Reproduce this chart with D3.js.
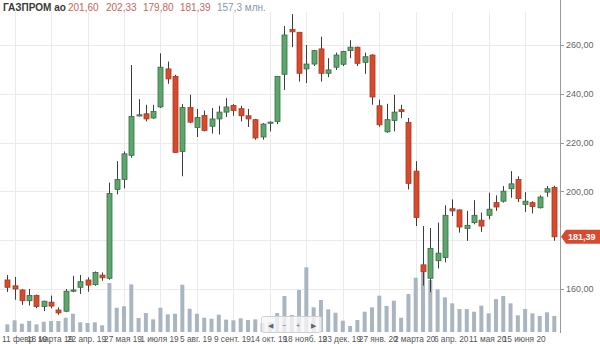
<!DOCTYPE html>
<html><head><meta charset="utf-8">
<script src="https://cdn.jsdelivr.net/npm/d3@7"></script>
<style>html,body{margin:0;padding:0;background:#fff}svg{display:block;font-family:"Liberation Sans",Arial,sans-serif}</style>
</head><body><svg id="c" width="600" height="344"></svg>
<script>
const dates = ["2019-02-04","2019-02-11","2019-02-18","2019-02-25","2019-03-04","2019-03-11","2019-03-18","2019-03-25","2019-04-01","2019-04-08","2019-04-15","2019-04-22","2019-04-29","2019-05-06","2019-05-13","2019-05-20","2019-05-27","2019-06-03","2019-06-10","2019-06-17","2019-06-24","2019-07-01","2019-07-08","2019-07-15","2019-07-22","2019-07-29","2019-08-05","2019-08-12","2019-08-19","2019-08-26","2019-09-02","2019-09-09","2019-09-16","2019-09-23","2019-09-30","2019-10-07","2019-10-14","2019-10-21","2019-10-28","2019-11-04","2019-11-11","2019-11-18","2019-11-25","2019-12-02","2019-12-09","2019-12-16","2019-12-23","2019-12-30","2020-01-06","2020-01-13","2020-01-20","2020-01-27","2020-02-03","2020-02-10","2020-02-17","2020-02-24","2020-03-02","2020-03-09","2020-03-16","2020-03-23","2020-03-30","2020-04-06","2020-04-13","2020-04-20","2020-04-27","2020-05-04","2020-05-11","2020-05-18","2020-05-25","2020-06-01","2020-06-08","2020-06-15","2020-06-22","2020-06-29","2020-07-06","2020-07-13"];
const open  = [163.7,161.3,159.6,155.2,157.3,152.8,154.6,151.4,150.9,159.2,160.7,163.7,161.8,165.7,164.4,200.8,204.9,214.8,230.9,231.8,230.1,234.6,250.2,247.1,216.4,234.4,226.2,231.1,226.7,229.7,232.5,235.2,233.9,231.0,229.4,222.3,227.9,228.7,248.0,266.4,265.2,250.2,252.2,258.4,248.4,250.9,252.1,257.7,259.1,252.9,255.9,235.1,224.4,229.1,233.5,228.3,208.3,169.9,164.4,171.6,172.9,192.9,192.4,184.8,187.2,188.2,190.2,195.4,196.0,201.1,204.9,194.7,195.4,193.3,199.7,201.60];
const high  = [165.7,164.9,160.0,160.0,157.7,155.2,157.3,152.5,160.0,165.4,165.7,164.8,167.2,166.8,203.6,212.4,216.4,251.8,237.8,235.5,235.5,256.6,253.2,247.8,235.8,239.6,233.8,233.1,234.2,235.1,238.2,235.8,235.1,233.8,229.7,228.0,228.7,247.2,267.8,272.7,265.4,260.0,258.0,263.4,254.6,256.9,257.6,262.0,259.3,256.9,256.2,237.6,235.9,239.6,235.5,230.1,212.4,185.8,185.0,187.2,194.3,196.7,192.7,192.0,196.4,191.3,199.5,198.4,202.2,208.3,206.2,199.7,196.0,198.4,202.2,202.33];
const low   = [158.8,155.6,153.5,153.2,152.1,150.9,152.1,149.4,150.5,158.7,158.0,158.9,161.3,163.4,163.8,198.8,201.2,213.8,230.7,228.7,229.7,234.2,244.1,215.8,206.2,228.0,222.3,224.6,223.7,223.3,230.5,231.0,228.7,226.4,221.2,221.2,224.6,227.6,241.6,259.1,245.0,244.4,251.4,245.0,246.8,249.8,251.4,254.6,251.4,248.2,235.5,226.5,224.0,224.6,230.1,200.8,185.8,161.4,158.7,168.4,170.9,189.9,183.1,179.7,186.5,183.4,188.6,192.0,195.4,197.4,195.6,191.6,191.0,193.0,197.8,179.80];
const close = [160.7,160.0,155.2,157.3,152.8,155.0,153.0,150.2,159.1,159.6,163.0,161.6,166.8,164.6,199.1,204.9,215.4,230.7,231.4,229.7,232.8,250.9,246.1,216.0,234.4,228.4,230.3,225.0,229.7,232.5,234.6,233.2,231.0,229.7,221.9,227.6,228.4,247.1,264.1,265.4,248.4,252.2,257.7,248.4,249.8,255.9,257.3,259.1,252.5,255.2,238.7,227.3,229.4,232.5,232.7,203.3,189.3,167.1,176.6,174.7,190.2,192.0,185.4,186.1,190.2,185.8,192.7,193.6,200.1,203.1,197.1,196.0,193.8,197.7,201.1,181.39];
const volume = [75,115,81,108,75,101,108,108,140,179,95,88,95,66,480,238,252,467,137,186,124,238,173,179,464,228,179,140,130,170,121,115,134,118,124,88,98,186,353,167,412,634,242,314,222,189,111,59,118,199,242,356,255,307,140,372,532,588,510,418,340,281,225,225,199,258,183,323,353,281,164,225,183,157,193,157.3];
const tickDates = ["2019-02-11","2019-03-18","2019-04-22","2019-05-27","2019-07-01","2019-08-05","2019-09-09","2019-10-14","2019-11-18","2019-12-23","2020-01-27","2020-03-02","2020-04-06","2020-05-11","2020-06-15"];
const tickLabels = ["11 февр. 19","18 марта 19","22 апр. 19","27 мая 19","1 июля 19","5 авг. 19","9 сент. 19","14 окт. 19","18 нояб. 19","23 дек. 19","27 янв. 20","2 марта 20","6 апр. 20","11 мая 20","15 июня 20"];
const priceTicks = [160,180,200,220,240,260];
const title = "ГАЗПРОМ ао";
const headerValues = ["201,60","202,33","179,80","181,39"];
const headerVolume = "157,3 млн.";

const svg = d3.select("#c");
const x = d3.scaleBand().domain(dates).range([3.65, 557.95]).padding(0);
const cx = d => x(d) + x.bandwidth()/2;
const y = d3.scaleLinear().domain([160,260]).range([289,45]);
const vy = d3.scaleLinear().domain([0,1000]).range([332,230]);
const fmt = v => d3.format(".2f")(v).replace(".", ",");

// grid
const g = svg.append("g");
g.selectAll(".hg").data(priceTicks).join("line")
  .attr("x1",0).attr("x2",560).attr("y1",d=>Math.round(y(d))+0.5).attr("y2",d=>Math.round(y(d))+0.5)
  .attr("stroke","#ebebeb");
g.selectAll(".vg").data(tickDates).join("line")
  .attr("x1",d=>Math.round(cx(d))+0.5).attr("x2",d=>Math.round(cx(d))+0.5).attr("y1",12).attr("y2",333)
  .attr("stroke","#ebebeb");

// volume
svg.append("g").selectAll("rect").data(dates).join("rect")
  .attr("x",(d)=>cx(d)-2).attr("width",4)
  .attr("y",(d,i)=>vy(volume[i])).attr("height",(d,i)=>vy(0)-vy(volume[i]))
  .attr("fill","#a9b6c1");

// candles
const cg = svg.append("g");
dates.forEach((d,i)=>{
  const up = close[i] >= open[i];
  const xc = Math.round(cx(d));
  cg.append("line").attr("x1",xc+0.5).attr("x2",xc+0.5).attr("y1",y(high[i])).attr("y2",y(low[i]))
    .attr("stroke","#3d3d3d").attr("stroke-width",1);
  const top = y(Math.max(open[i],close[i])), bot = y(Math.min(open[i],close[i]));
  cg.append("rect").attr("x",xc-2).attr("width",5)
    .attr("y",top).attr("height",Math.max(1.2,bot-top))
    .attr("fill",up?"#5da66c":"#d94a2d").attr("stroke",up?"#3a6b45":"#a33a22").attr("stroke-width",0.8);
});

// right axis
svg.append("line").attr("x1",560.5).attr("x2",560.5).attr("y1",0).attr("y2",333).attr("stroke","#9a9a9a");
const lastClose = close[close.length-1];
const visTicks = priceTicks.filter(t => Math.abs(y(t)-y(lastClose)) > 10);
svg.selectAll(".yt").data(visTicks).join("line")
  .attr("x1",561).attr("x2",564).attr("y1",d=>Math.round(y(d))+0.5).attr("y2",d=>Math.round(y(d))+0.5).attr("stroke","#9a9a9a");
svg.selectAll(".yl").data(visTicks).join("text")
  .attr("x",566).attr("y",d=>y(d)+3.2).attr("font-size",9).attr("fill","#666").text(fmt);

// price tag
const ty = y(lastClose);
svg.append("path").attr("d",`M561,${ty} L566,${ty-7} L600,${ty-7} L600,${ty+7} L566,${ty+7} Z`).attr("fill","#d94a2d");
svg.append("text").attr("x",568).attr("y",ty+3.3).attr("font-size",9).attr("font-weight","bold").attr("fill","#fff").text(fmt(lastClose));

// x labels
svg.selectAll(".xl").data(tickDates).join("text")
  .attr("x",(d,i)=> i===0 ? 2 : cx(d)-1).attr("y",341.5)
  .attr("text-anchor",(d,i)=> i===0 ? "start" : "middle")
  .attr("font-size",8.3).attr("fill","#555")
  .text((d,i)=>tickLabels[i]);

// navigator
const nav = svg.append("g");
nav.append("rect").attr("x",261.5).attr("y",316.5).attr("width",60).attr("height",16).attr("rx",2)
  .attr("fill","rgba(246,246,246,0.8)").attr("stroke","#d0d0d0");
const navSyms = ["◀","−","+","▶"];
const navX = [270,284,298,313];
nav.selectAll("text").data(navSyms).join("text").attr("x",(d,i)=>navX[i]).attr("y",327.5)
  .attr("text-anchor","middle").attr("font-size",7).attr("fill","#666").text(d=>d);

// header
const h = svg.append("text").attr("y",11).attr("font-size",10);
h.append("tspan").attr("x",3).attr("font-weight","bold").attr("fill","#3a3a3a").text(title);
const hx = [68,106,143,180];
headerValues.forEach((v,i)=> h.append("tspan").attr("x",hx[i]).attr("fill","#c5665a").text(v));
h.append("tspan").attr("x",217).attr("fill","#8797a8").text(headerVolume);
</script></body></html>
